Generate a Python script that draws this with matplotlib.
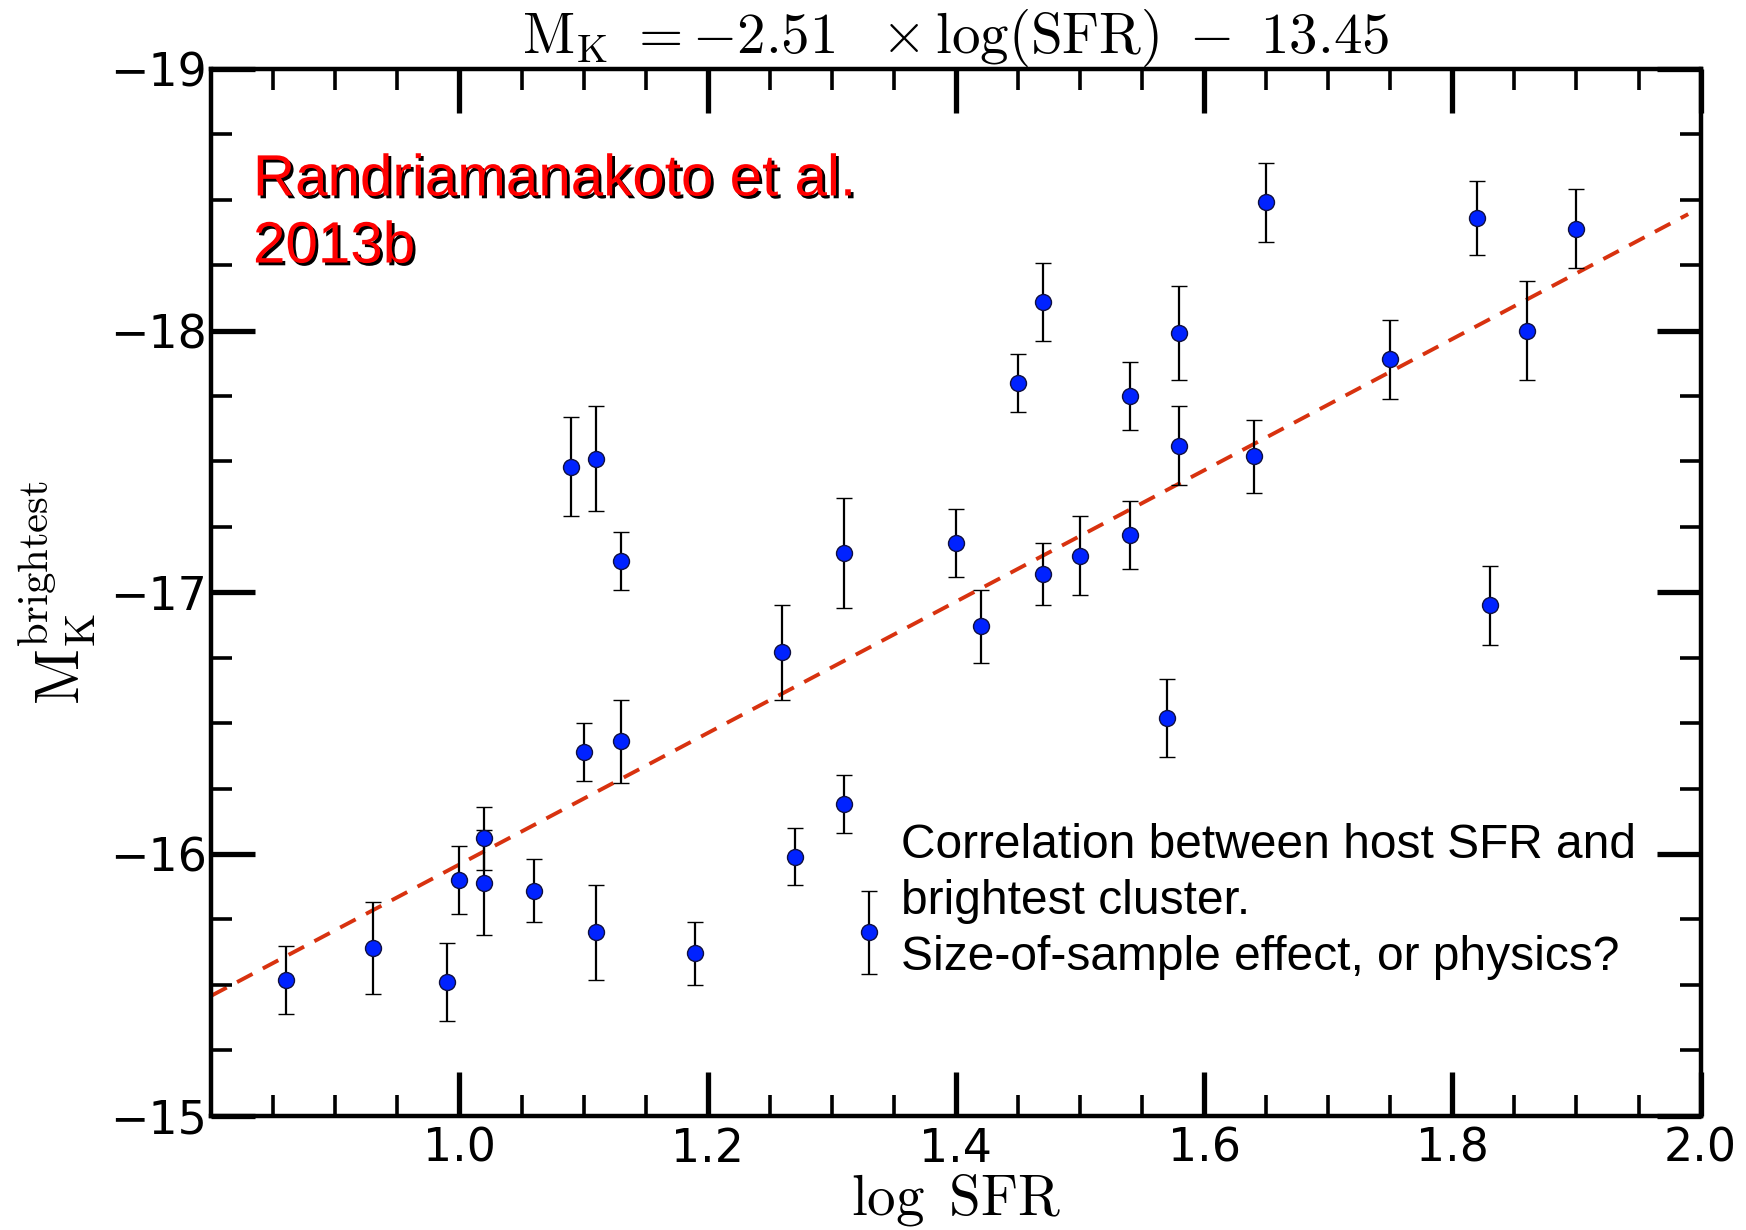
import numpy as np
import matplotlib
matplotlib.use("Agg")
import matplotlib.pyplot as plt
import matplotlib.patheffects as pe

plt.rcParams['mathtext.fontset'] = 'cm'

# log SFR, M_K brightest, error
log_sfr = [0.86, 0.93, 0.99, 1.00, 1.02, 1.02, 1.06, 1.11, 1.09, 1.11,
           1.13, 1.10, 1.13, 1.19, 1.26, 1.27, 1.31, 1.31, 1.33, 1.40,
           1.42, 1.45, 1.47, 1.47, 1.50, 1.54, 1.54, 1.57, 1.58, 1.58,
           1.64, 1.65, 1.75, 1.82, 1.83, 1.86, 1.90]
mk_bright = [-15.52, -15.64, -15.51, -15.90, -16.06, -15.89, -15.86, -15.70, -17.48, -17.51,
             -17.12, -16.39, -16.43, -15.62, -16.77, -15.99, -17.15, -16.19, -15.70, -17.19,
             -16.87, -17.80, -18.11, -17.07, -17.14, -17.75, -17.22, -16.52, -17.99, -17.56,
             -17.52, -18.49, -17.89, -18.43, -16.95, -18.00, -18.39]
mk_err = [0.13, 0.175, 0.15, 0.13, 0.12, 0.20, 0.12, 0.18, 0.19, 0.20,
          0.11, 0.11, 0.16, 0.12, 0.18, 0.11, 0.21, 0.11, 0.16, 0.13,
          0.14, 0.11, 0.15, 0.12, 0.15, 0.13, 0.13, 0.15, 0.18, 0.15,
          0.14, 0.15, 0.15, 0.14, 0.15, 0.19, 0.15]

slope = -2.51
intercept = -13.45

fig = plt.figure(figsize=(17.46, 12.30), dpi=100)
ax = fig.add_axes([0.121, 0.093, 0.853, 0.851])

xfit = np.array([0.8, 1.99])
ax.plot(xfit, slope * xfit + intercept, ls=(0, (4.5, 3)), color='#d8320f', lw=2.8, zorder=1)

ax.errorbar(log_sfr, mk_bright, yerr=mk_err, fmt='o', ms=11.5, mfc='#0022ff', mec='#101040',
            mew=1.0, ecolor='black', elinewidth=1.6, capsize=5.5, capthick=1.6, zorder=2)

ax.set_xlim(0.8, 2.0)
ax.set_ylim(-15, -19)
ax.set_xticks([1.0, 1.2, 1.4, 1.6, 1.8, 2.0])
ax.set_xticks(np.arange(0.85, 2.0, 0.05), minor=True)
ax.set_yticks([-19, -18, -17, -16, -15])
ax.set_yticks(np.arange(-18.75, -15.0, 0.25), minor=True)

for s in ax.spines.values():
    s.set_linewidth(3.2)
ax.tick_params(which='both', direction='in', top=True, right=True, labelsize=33)
ax.tick_params(axis='x', pad=8)
ax.tick_params(axis='y', pad=3)
ax.tick_params(which='major', length=32, width=3.8)
ax.tick_params(which='minor', length=15, width=2.6)

ax.set_title(r'$\mathrm{M_K}\ ={-}2.51\ \ \times\log(\mathrm{SFR})\ -\ 13.45$', fontsize=41, pad=4)
ax.set_xlabel(r'$\log\ \mathrm{SFR}$', fontsize=41, labelpad=0)
ax.set_ylabel(r'$\mathrm{M_K^{brightest}}$', fontsize=44, labelpad=9)

ax.text(0.028, 0.815, 'Randriamanakoto et al.\n2013b', transform=ax.transAxes,
        fontsize=42, family='Liberation Sans', color='red', va='baseline', linespacing=1.31,
        path_effects=[pe.withSimplePatchShadow(offset=(2, -2), shadow_rgbFace='black', alpha=1.0)])

ax.text(0.463, 0.139, 'Correlation between host SFR and\nbrightest cluster.\nSize-of-sample effect, or physics?',
        transform=ax.transAxes, fontsize=34.5, family='Liberation Sans', color='black',
        va='baseline', linespacing=1.32)

fig.savefig('out.png', dpi=100)
